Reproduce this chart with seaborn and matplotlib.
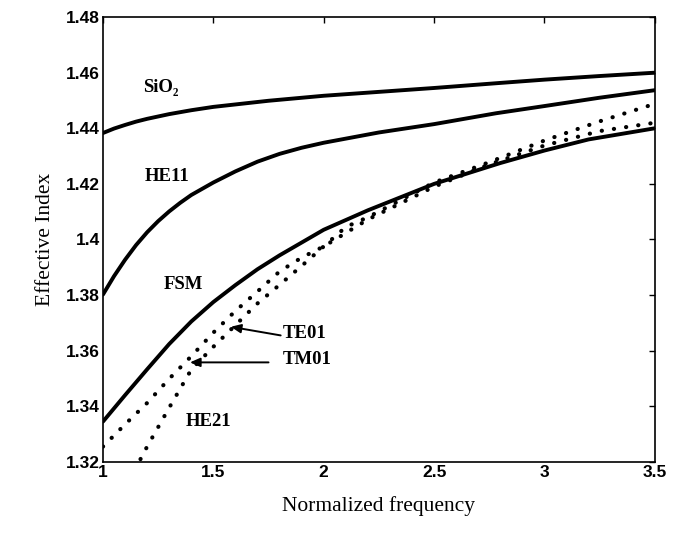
import matplotlib
matplotlib.use("Agg")
import matplotlib.pyplot as plt
import seaborn as sns
import pandas as pd

# ---- data ----
sio2_x = [1.0, 1.05, 1.1, 1.15, 1.2, 1.3, 1.4, 1.5, 1.75, 2.0, 2.5, 2.78, 3.0, 3.25, 3.5]
sio2_y = [1.4383, 1.4399, 1.4412, 1.4424, 1.4434, 1.4451, 1.4465, 1.4477, 1.4499, 1.4517, 1.4545, 1.4562, 1.4575, 1.4588, 1.4600]

he11_x = [1.0, 1.05, 1.1, 1.15, 1.2, 1.25, 1.3, 1.35, 1.4, 1.5, 1.6, 1.7, 1.8, 1.9, 2.0, 2.25, 2.5, 2.78, 3.0, 3.25, 3.5]
he11_y = [1.3802, 1.3868, 1.3927, 1.3980, 1.4026, 1.4066, 1.4101, 1.4132, 1.4160, 1.4205, 1.4245, 1.4280, 1.4308, 1.4330, 1.4348, 1.4385, 1.4415, 1.4454, 1.4480, 1.4510, 1.4537]

fsm_x = [1.0, 1.1, 1.2, 1.3, 1.4, 1.5, 1.6, 1.7, 1.8, 2.0, 2.2, 2.5, 2.8, 3.0, 3.2, 3.5]
fsm_y = [1.3345, 1.3440, 1.3533, 1.3624, 1.3705, 1.3775, 1.3836, 1.3893, 1.3943, 1.4035, 1.4105, 1.4200, 1.4275, 1.4320, 1.4360, 1.4400]

te01_x = [1.0, 1.1, 1.2, 1.3, 1.4, 1.5, 1.6, 1.7, 1.8, 1.9, 2.0, 2.2, 2.5, 2.75, 3.0, 3.25, 3.5]
te01_y = [1.3255, 1.3335, 1.3412, 1.3499, 1.3580, 1.3665, 1.3743, 1.3813, 1.3885, 1.3935, 1.3975, 1.4072, 1.4190, 1.4270, 1.4338, 1.4390, 1.4420]

tm01_x = [1.17, 1.2, 1.3, 1.4, 1.5, 1.6, 1.7, 1.8, 1.9, 2.0, 2.1, 2.2, 2.5, 2.75, 3.0, 3.25, 3.5]
tm01_y = [1.3210, 1.3255, 1.3395, 1.3532, 1.3614, 1.3692, 1.3770, 1.3837, 1.3905, 1.3975, 1.4045, 1.4080, 1.4205, 1.4278, 1.4356, 1.4425, 1.4488]

x_ticks = [1, 1.5, 2, 2.5, 3, 3.5]
x_tick_labels = ["1", "1.5", "2", "2.5", "3", "3.5"]
y_ticks = [1.32, 1.34, 1.36, 1.38, 1.40, 1.42, 1.44, 1.46, 1.48]
y_tick_labels = ["1.32", "1.34", "1.36", "1.38", "1.4", "1.42", "1.44", "1.46", "1.48"]

sns.set_theme(style="white")
plt.rcParams["font.family"] = ["Liberation Sans", "DejaVu Sans"]
plt.rcParams["xtick.direction"] = "in"
plt.rcParams["ytick.direction"] = "in"

fig = plt.figure(figsize=(6.73, 5.34), dpi=100)
ax = fig.add_axes([0.153, 0.135, 0.820, 0.833])

solid = [(sio2_x, sio2_y), (he11_x, he11_y), (fsm_x, fsm_y)]
for xs, ys in solid:
    df = pd.DataFrame({"x": xs, "y": ys})
    sns.lineplot(data=df, x="x", y="y", ax=ax, color="black", lw=2.8, sort=False)

for xs, ys in [(te01_x, te01_y), (tm01_x, tm01_y)]:
    df = pd.DataFrame({"x": xs, "y": ys})
    sns.lineplot(data=df, x="x", y="y", ax=ax, color="black", lw=3.0, sort=False,
                 linestyle=(0, (0.05, 2.9)), dash_capstyle="round")

ax.set_xlim(1, 3.5)
ax.set_ylim(1.32, 1.48)
ax.set_xticks(x_ticks)
ax.set_xticklabels(x_tick_labels)
ax.set_yticks(y_ticks)
ax.set_yticklabels(y_tick_labels)
ax.tick_params(axis="both", which="both", direction="in", length=4, width=1,
               top=True, right=True, labelsize=12.5, pad=2, color="black", labelcolor="black")
for lab in ax.get_xticklabels() + ax.get_yticklabels():
    lab.set_fontweight("bold")
for s in ax.spines.values():
    s.set_color("black")
    s.set_linewidth(1.2)

serif = ["Liberation Serif", "DejaVu Serif"]
ax.set_xlabel("Normalized frequency", fontsize=15.5, family=serif, color="black", labelpad=12)
ax.set_ylabel("Effective Index", fontsize=15.5, family=serif, color="black", labelpad=8)

tk = dict(fontsize=13.5, family=serif, color="black", fontweight="bold", va="center", ha="left")
ax.text(1.18, 1.4548, "SiO\u2082", **tk)
ax.text(1.19, 1.4226, "HE11", **tk)
ax.text(1.275, 1.3837, "FSM", **tk)
ax.text(1.375, 1.3346, "HE21", **tk)
ax.text(1.815, 1.3663, "TE01", **tk)
ax.text(1.815, 1.3570, "TM01", **tk)

arrow = dict(arrowstyle="-|>,head_length=0.5,head_width=0.22", color="black", lw=1.4,
             shrinkA=0, shrinkB=0)
ax.annotate("", xy=(1.579, 1.3686), xytext=(1.805, 1.3655), arrowprops=arrow)
ax.annotate("", xy=(1.394, 1.3558), xytext=(1.750, 1.3558), arrowprops=arrow)

fig.savefig("out.png", dpi=100, facecolor="white")
